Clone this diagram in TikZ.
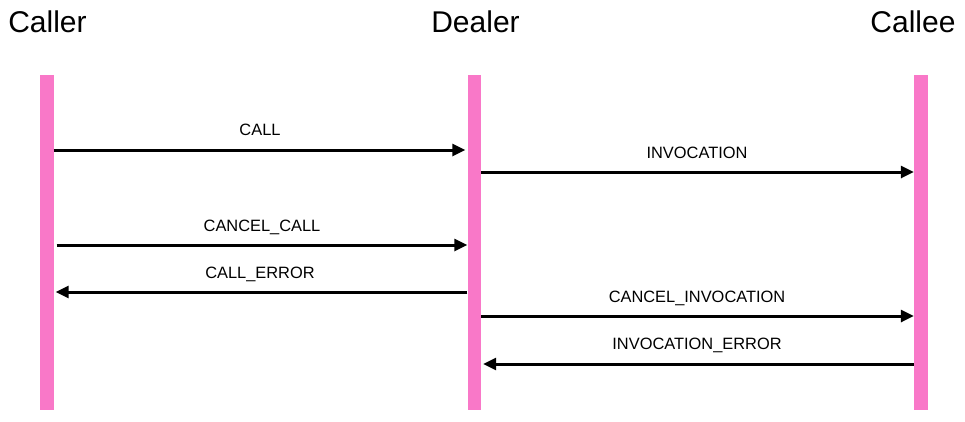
\documentclass[tikz,border=0pt]{standalone}
\usepackage{fontspec}
\setmainfont{Liberation Sans}
\usetikzlibrary{arrows.meta}
\definecolor{barpink}{RGB}{249,120,200}
\begin{document}
\begin{tikzpicture}[x=1pt,y=-1pt,
  lifebar/.style={fill=barpink,draw=none,minimum width=13.5pt,minimum height=335pt,inner sep=0pt,anchor=north},
  title/.style={font=\fontsize{30}{36}\selectfont,anchor=base,inner sep=0pt},
  msg/.style={line width=3pt,-{Triangle[length=13pt,width=12pt]}},
  lbl/.style={font=\fontsize{16.4}{19}\selectfont,anchor=base,inner sep=0pt}]
\useasboundingbox (0,0) rectangle (965,421);
\node[title] (tcaller) at (47.5,32) {Caller};
\node[title] (tdealer) at (475.5,32) {Dealer};
\node[title] (tcallee) at (913,32) {Callee};
\node[lifebar] (caller) at (46.75,75) {};
\node[lifebar] (dealer) at (474.25,75) {};
\node[lifebar] (callee) at (920.75,75) {};
% messages
\draw[msg] (caller.east |- 0,150) -- ([xshift=-2pt]dealer.west |- 0,150);
\node[lbl] (l1) at (260,135) {CALL};
\draw[msg] (dealer.east |- 0,172) -- (callee.west |- 0,172);
\node[lbl] (l2) at (697,158) {INVOCATION};
\draw[msg] ([xshift=3pt]caller.east |- 0,245) -- (dealer.west |- 0,245);
\node[lbl] (l3) at (262,231) {CANCEL\_CALL};
\draw[msg] (dealer.west |- 0,292) -- ([xshift=2pt]caller.east |- 0,292);
\node[lbl] (l4) at (260,278) {CALL\_ERROR};
\draw[msg] (dealer.east |- 0,316) -- (callee.west |- 0,316);
\node[lbl] (l5) at (697,302) {CANCEL\_INVOCATION};
\draw[msg] (callee.west |- 0,364) -- ([xshift=2pt]dealer.east |- 0,364);
\node[lbl] (l6) at (697,349) {INVOCATION\_ERROR};
\end{tikzpicture}
\end{document}
